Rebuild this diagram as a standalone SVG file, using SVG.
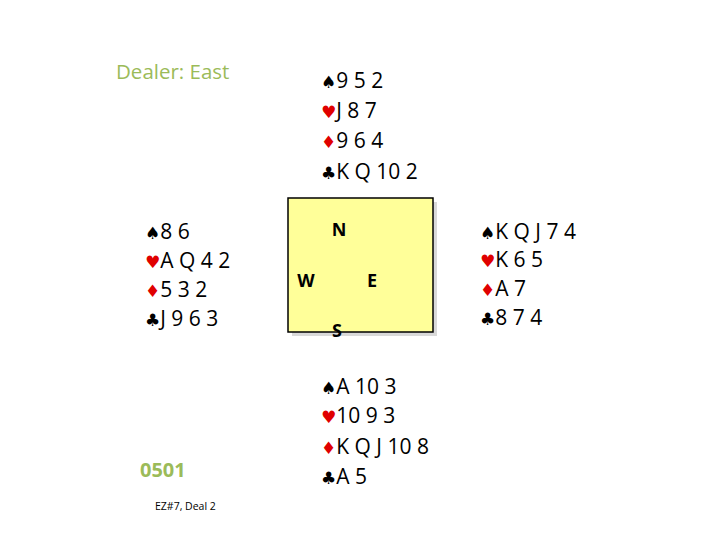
<svg xmlns="http://www.w3.org/2000/svg" width="720" height="540" viewBox="0 0 720 540">
<style>
.h{font-family:"Open Sans","Liberation Sans",sans-serif;font-size:21px;fill:#000}
.s{font-family:"DejaVu Sans",sans-serif;font-size:17px}
.r{fill:#e00000}
.k{fill:#000}
.d{font-family:"Open Sans","Liberation Sans",sans-serif;font-weight:bold;font-size:18px;fill:#000}
.g{fill:#9bbb59;font-family:"Open Sans","Liberation Sans",sans-serif}
</style>
<rect width="720" height="540" fill="#fff"/>
<g id="table">
<rect x="292" y="202" width="145" height="134" fill="#d9d9d9"/>
<rect x="288" y="198" width="145" height="134" fill="#ffff99" stroke="#000" stroke-width="1.5"/>
<text class="d" x="339" y="236" text-anchor="middle">N</text>
<text class="d" x="306" y="287" text-anchor="middle">W</text>
<text class="d" x="372" y="287" text-anchor="middle">E</text>
<text class="d" x="337" y="337" text-anchor="middle">S</text>
</g>
<g id="dealer"><text class="g" x="116" y="79" font-size="20.5">Dealer: East</text></g>
<g id="north">
<text class="h" x="321" y="88"><tspan class="s k">♠</tspan>9 5 2</text>
<text class="h" x="321" y="118"><tspan class="s r">♥</tspan>J 8 7</text>
<text class="h" x="321" y="148"><tspan class="s r">♦</tspan>9 6 4</text>
<text class="h" x="321" y="179"><tspan class="s k">♣</tspan>K Q 10 2</text>
</g>
<g id="west">
<text class="h" x="145" y="239"><tspan class="s k">♠</tspan>8 6</text>
<text class="h" x="145" y="268"><tspan class="s r">♥</tspan>A Q 4 2</text>
<text class="h" x="145" y="297"><tspan class="s r">♦</tspan>5 3 2</text>
<text class="h" x="145" y="326"><tspan class="s k">♣</tspan>J 9 6 3</text>
</g>
<g id="east">
<text class="h" x="480" y="239"><tspan class="s k">♠</tspan>K Q J 7 4</text>
<text class="h" x="480" y="267"><tspan class="s r">♥</tspan>K 6 5</text>
<text class="h" x="480" y="296"><tspan class="s r">♦</tspan>A 7</text>
<text class="h" x="480" y="325"><tspan class="s k">♣</tspan>8 7 4</text>
</g>
<g id="south">
<text class="h" x="321" y="394"><tspan class="s k">♠</tspan>A 10 3</text>
<text class="h" x="321" y="423"><tspan class="s r">♥</tspan>10 9 3</text>
<text class="h" x="321" y="454"><tspan class="s r">♦</tspan>K Q J 10 8</text>
<text class="h" x="321" y="484"><tspan class="s k">♣</tspan>A 5</text>
</g>
<g id="code"><text class="g" x="140" y="477" font-size="20" font-weight="bold">0501</text></g>
<g id="source"><text x="155" y="510" font-family="Open Sans, Liberation Sans, sans-serif" font-size="10.5" fill="#000">EZ#7, Deal 2</text></g>
</svg>
